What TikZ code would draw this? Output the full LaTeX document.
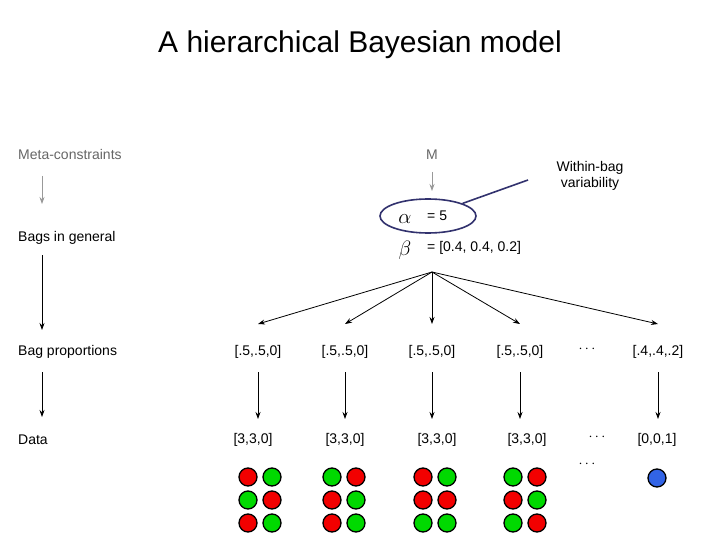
\documentclass[tikz,border=0pt]{standalone}
\usepackage{fontspec}
\setmainfont{Liberation Sans}
\usetikzlibrary{arrows.meta,shapes.geometric}
\definecolor{navy}{RGB}{50,50,110}
\definecolor{ballblue}{RGB}{50,100,230}
\colorlet{R}{red!95!black}
\colorlet{G}{green!85!black}
\begin{document}
\begin{tikzpicture}[x=1pt,y=-1pt,
 lbl/.style={font=\fontsize{14}{16}\selectfont,inner sep=0pt},
 arr/.style={-{Stealth[length=7pt,width=5pt]},line width=0.8pt},
 garr/.style={arr,gray!80},
 ball/.style={circle,draw=black,line width=1.3pt,minimum size=18pt,inner sep=0pt}]
\useasboundingbox (0,0) rectangle (720,540);
\fill[white] (0,0) rectangle (720,540);
\node[font=\fontsize{30}{34}\selectfont] (title) at (360,45) {A hierarchical Bayesian model};
\node[lbl,anchor=west,gray!80!black] (meta) at (18,154) {Meta-constraints};
\node[lbl,anchor=west] (bags) at (18,238) {Bags in general};
\node[lbl,anchor=west] (bprop) at (18,352) {Bag proportions};
\node[lbl,anchor=west] (data) at (18,440) {Data};
\coordinate (a1) at (42,176); \coordinate (a2) at (42,204);
\draw[garr] (a1) -- (a2);
\coordinate (b1) at (42,255); \coordinate (b2) at (42,330);
\draw[arr] (b1) -- (b2);
\coordinate (c1) at (42,372); \coordinate (c2) at (42,417);
\draw[arr] (c1) -- (c2);
\node[lbl,gray!80!black] (M) at (432,155) {M};
\coordinate (m1) at (432,172); \coordinate (m2) at (432,191);
\draw[garr] (m1) -- (m2);
\node[font=\fontsize{22}{24}\selectfont,inner sep=0pt] (alpha) at (405,219) {$\alpha$};
\node[lbl,anchor=west] (a5) at (427,216) {= 5};
\node[draw=navy,line width=1.6pt,ellipse,minimum width=96pt,minimum height=34pt] (ell) at (428,216) {};
\node[lbl,align=center] (wb) at (590,176) {Within-bag\\ variability};
\coordinate (wl) at (528,180);
\draw[navy,line width=1.6pt] (ell.20) -- (wl);
\node[font=\fontsize{22}{24}\selectfont,inner sep=0pt] (beta) at (405,250) {$\beta$};
\node[lbl,anchor=west] (bv) at (427,248) {= [0.4, 0.4, 0.2]};
\coordinate (hub) at (432,272);
\foreach \n/\x/\t in {1/258/{[.5,.5,0]},2/345/{[.5,.5,0]},3/432/{[.5,.5,0]},4/520/{[.5,.5,0]},5/658/{[.4,.4,.2]}}{
  \node[lbl] (p\n) at (\x,352) {\t};
  \coordinate (pt\n) at (\x,324);
  \draw[arr] (hub) -- (pt\n);
}
\node[lbl] (pd) at (587,349) {$\cdots$};
\foreach \n/\x/\t in {1/253/{[3,3,0]},2/345/{[3,3,0]},3/437/{[3,3,0]},4/527/{[3,3,0]},5/657/{[0,0,1]}}{
  \node[lbl] (d\n) at (\x,440) {\t};
}
\foreach \n/\x in {1/258,2/345,3/432,4/520,5/658}{
  \coordinate (q\n) at (\x,372); \coordinate (r\n) at (\x,419);
  \draw[arr] (q\n) -- (r\n);
}
\node[lbl] (dd1) at (597,437) {$\cdots$};
\node[lbl] (dd2) at (587,464) {$\cdots$};
\foreach \x/\cs [count=\g] in {248/{R,G,G,R,R,G},332/{G,R,R,G,R,G},423/{R,G,R,R,G,G},513/{G,R,R,G,G,R}}{
  \foreach \c [count=\i from 0] in \cs {
    \pgfmathtruncatemacro\row{int(\i/2)}
    \pgfmathtruncatemacro\col{mod(\i,2)}
    \node[ball,fill=\c] (ball\g-\i) at ({\x+24*\col},{477+23*\row}) {};
  }
}
\node[ball,fill=ballblue] (blue) at (657,478) {};
\end{tikzpicture}
\end{document}
